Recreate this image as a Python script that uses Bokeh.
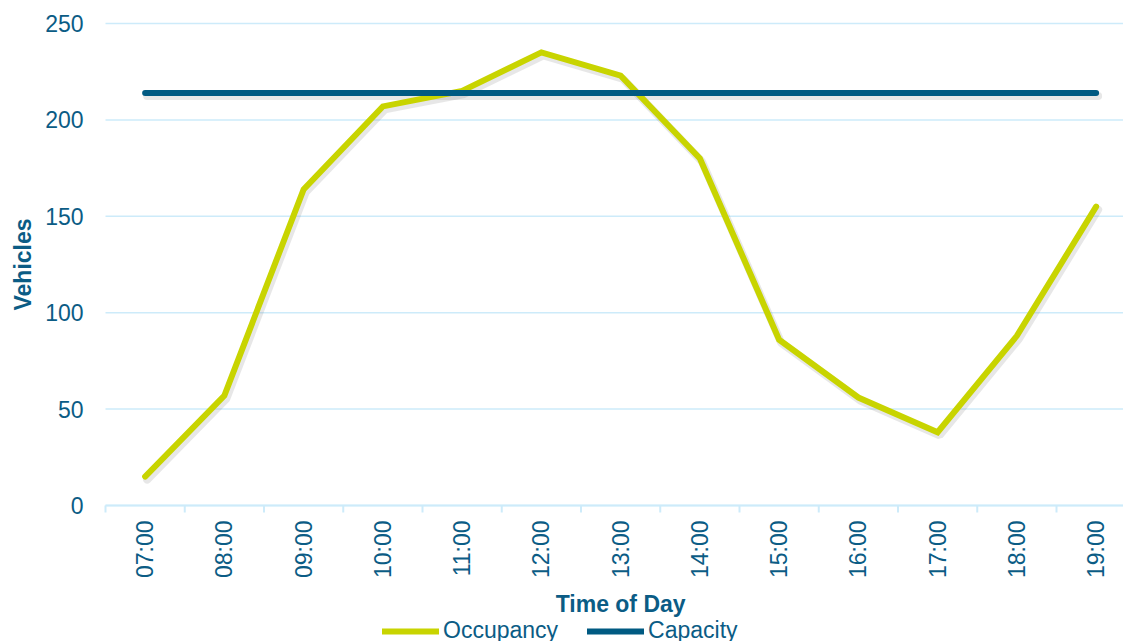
import math
from bokeh.plotting import figure
from bokeh.models import Legend, LegendItem, Range1d
from bokeh.core.properties import value
from bokeh.embed import file_html
from bokeh.resources import INLINE

# Hourly car park counts
times = ["07:00", "08:00", "09:00", "10:00", "11:00", "12:00", "13:00",
         "14:00", "15:00", "16:00", "17:00", "18:00", "19:00"]
occupancy = [15, 57, 164, 207, 215, 235, 223, 180, 86, 56, 38, 88, 155]
capacity = [214, 214, 214, 214, 214, 214, 214, 214, 214, 214, 214, 214, 214]
y_ticks = [0, 50, 100, 150, 200, 250]

TEXT = "#0B5C85"
GRID = "#CDEBFA"
OCC = "#C8D400"
CAP = "#005A82"
FONT = "Liberation Sans"

# page geometry (pixels): value band 482 px tall starting 23 px from the top,
# hour columns 79.25 px wide starting 105 px from the left
W, H = 1123, 641
TOP_PX, PLOT_PX = 23, 482
LEFT_PX, COL_PX = 105, 79.25
ppu = PLOT_PX / 250.0                     # pixels per vehicle

x_start = -0.5 - LEFT_PX / COL_PX
x_end = x_start + W / COL_PX
y_high = 250 + TOP_PX / ppu
y_low = y_high - H / ppu

xs = list(range(len(times)))

p = figure(frame_width=W, frame_height=H,
           x_range=Range1d(x_start, x_end), y_range=Range1d(y_low, y_high),
           output_backend="svg", toolbar_location=None, min_border=0,
           min_border_left=0, min_border_right=0,
           min_border_top=0, min_border_bottom=0)
p.outline_line_color = None
p.background_fill_color = "white"
p.border_fill_color = "white"
p.xaxis.visible = False
p.yaxis.visible = False
p.xgrid.visible = False
p.ygrid.visible = False

# horizontal gridlines over the value band
n = len(y_ticks)
p.segment(x0=[-0.5] * n, y0=y_ticks, x1=[x_end] * n, y1=y_ticks,
          line_color=GRID, line_width=1.5)
p.segment(x0=[-0.5], y0=[y_ticks[0]], x1=[x_end], y1=[y_ticks[0]],
          line_color=GRID, line_width=2)

# value labels and axis title on the left
p.text(x=[-0.5 - 22 / COL_PX] * n, y=y_ticks, text=[str(t) for t in y_ticks],
       text_align="right", text_baseline="middle",
       text_font=value(FONT), text_font_size="23px", text_color=TEXT)
p.text(x=[-0.5 - 83 / COL_PX], y=[(y_ticks[0] + y_ticks[-1]) / 2],
       text=["Vehicles"], angle=math.pi / 2,
       text_align="center", text_baseline="middle",
       text_font=value(FONT), text_font_size="23px", text_font_style="bold",
       text_color=TEXT)

# ticks on the boundaries between hours, hour labels, axis title
bounds = [i - 0.5 for i in range(len(times) + 1)]
p.segment(x0=bounds, y0=[0] * len(bounds), x1=bounds,
          y1=[-7 / ppu] * len(bounds), line_color=GRID, line_width=2)
p.text(x=xs, y=[-15 / ppu] * len(xs), text=times, angle=math.pi / 2,
       text_align="right", text_baseline="middle",
       text_font=value(FONT), text_font_size="23px", text_color=TEXT)
p.text(x=[(len(times) - 1) / 2], y=[-98 / ppu], text=["Time of Day"],
       text_align="center", text_baseline="middle",
       text_font=value(FONT), text_font_size="23px", text_font_style="bold",
       text_color=TEXT)

# soft drop shadow under each series (offset a couple of pixels)
sx = 2 / COL_PX
sy = 3 / ppu
for ys in (occupancy, capacity):
    p.line([x + sx for x in xs], [y - sy for y in ys], line_width=8,
           line_color="#7a7a7a", line_alpha=0.18, line_cap="round")

occ_r = p.line(xs, occupancy, line_width=6, line_color=OCC,
               line_cap="round", line_join="miter")
cap_r = p.line(xs, capacity, line_width=6, line_color=CAP,
               line_cap="round")

legend = Legend(items=[LegendItem(label="Occupancy", renderers=[occ_r]),
                       LegendItem(label="Capacity", renderers=[cap_r])],
                orientation="horizontal", location=(382, -3),
                glyph_width=57, glyph_height=20, label_standoff=4,
                spacing=29, padding=0, margin=0,
                border_line_color=None, background_fill_alpha=0,
                label_text_font=FONT, label_text_font_size="23px",
                label_text_color=TEXT, label_height=20)
p.add_layout(legend, "center")

open("out.html", "w").write(file_html(p, INLINE))
